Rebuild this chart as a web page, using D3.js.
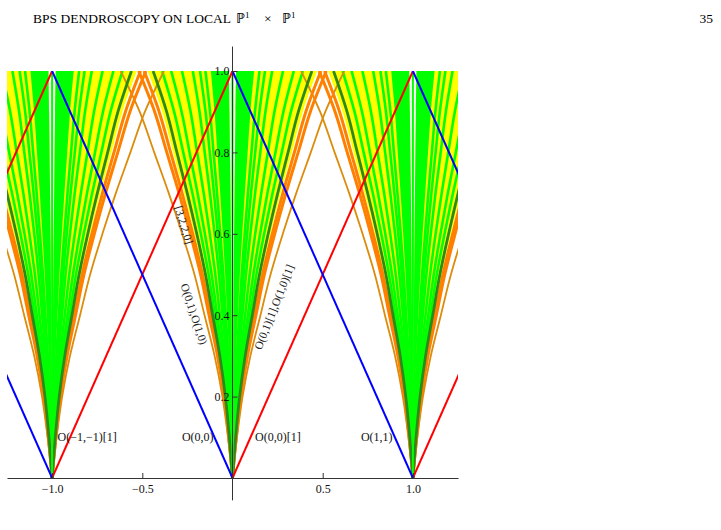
<!DOCTYPE html>
<html>
<head>
<meta charset="utf-8">
<script src="https://cdn.jsdelivr.net/npm/d3@7"></script>
<style>
  body { margin: 0; background: #fff; }
  text { font-family: "Liberation Serif", "Times New Roman", serif; }
</style>
</head>
<body>
<div id="chart"></div>
<script>
const width = 721;
const height = 530;

// origins of the wall fans on the horizontal axis
const fanOrigins = [-1, 0, 1];
// common shape of a wall: relative half-width read at each height
const yLevels     = [0, 0.1, 0.2, 0.3, 0.4, 0.5, 0.6, 0.7, 0.8, 0.9, 1.0];
const wallProfile = [0, 0.04, 0.09, 0.16, 0.25, 0.34, 0.45, 0.57, 0.70, 0.83, 1.0];
// half-width of each wall at the top (y = 1)
const greenBand = [0.02, 0.12];
const yellowBand = [0.02, 0.47];
const greenWalls = [0.15, 0.18, 0.22, 0.28, 0.34, 0.39];
const darkGreenWalls = [0.44];
const orangeWalls = [0.49, 0.52];
const thinOrangeWalls = [0.62];
// straight rays
const redStarts = [-2, -1, 0, 1];
const blueStarts = [-1, 0, 1, 2];
// ticks
const xMajorTicks = [-1, -0.5, 0.5, 1];
const yMajorTicks = [0.2, 0.4, 0.6, 0.8, 1.0];
// annotations
const pointLabels = [
  {text: "O(−1,−1)[1]", x: -0.97, y: 0.09, anchor: "start"},
  {text: "O(0,0)",      x: -0.105, y: 0.09, anchor: "end"},
  {text: "O(0,0)[1]",   x: 0.125, y: 0.09, anchor: "start"},
  {text: "O(1,1)",      x: 0.712, y: 0.09, anchor: "start"}
];
const wallLabels = [
  {text: "[3,2,2,0]",            x: -0.269, y: 0.622, angle: 73},
  {text: "O(0,1),O(1,0)",        x: -0.213, y: 0.403, angle: 72},
  {text: "O(0,1)[1],O(1,0)[1]",  x: 0.230,  y: 0.420, angle: -68.5}
];

const colors = {
  yellow: "#ffff00", green: "#00ff00", darkGreen: "#2b8a1c",
  orange: "#ff8000", thinOrange: "#dc8c0a", red: "#ff0000", blue: "#0000ff",
  axis: "#333"
};

const x = d3.scaleLinear().domain([-1.25, 1.25]).range([7, 458]);
const y = d3.scaleLinear().domain([0, 1]).range([478, 71]);

const svg = d3.select('#chart')
  .append('svg')
  .attr('width', width)
  .attr('height', height)
  .style('background', 'white');

// running head
const head = svg.append('text')
  .attr('x', 33).attr('y', 23)
  .style('font-size', '13.5px');
head.append('tspan').text('BPS DENDROSCOPY ON LOCAL');
head.append('tspan').attr('x', 236).style('font-size', '14px').text('ℙ');
head.append('tspan').attr('dy', -5.5).style('font-size', '9px').text('1');
head.append('tspan').attr('x', 264).attr('dy', 5.5).text('×');
head.append('tspan').attr('x', 282).style('font-size', '14px').text('ℙ');
head.append('tspan').attr('dy', -5.5).style('font-size', '9px').text('1');
svg.append('text')
  .attr('x', 713).attr('y', 23)
  .attr('text-anchor', 'end')
  .style('font-size', '13.5px')
  .text('35');

svg.append('clipPath').attr('id', 'plotclip')
  .append('rect')
  .attr('x', x(-1.25)).attr('y', y(1))
  .attr('width', x(1.25) - x(-1.25))
  .attr('height', y(0) - y(1));

const plot = svg.append('g').attr('clip-path', 'url(#plotclip)');

const profile = yLevels.map((v, i) => ({y: v, s: wallProfile[i]}));

function wallPath(n, side, c) {
  return d3.line()
    .curve(d3.curveCatmullRom)
    .x(d => x(n + side * c * d.s))
    .y(d => y(d.y))(profile);
}

function bandPath(n, side, band) {
  return d3.area()
    .curve(d3.curveCatmullRom)
    .y(d => y(d.y))
    .x0(d => x(n + side * band[0] * d.s))
    .x1(d => x(n + side * band[1] * d.s))(profile);
}

const sides = [-1, 1];

// filled regions
fanOrigins.forEach(n => sides.forEach(side => {
  plot.append('path').attr('d', bandPath(n, side, yellowBand)).attr('fill', colors.yellow);
}));
fanOrigins.forEach(n => sides.forEach(side => {
  plot.append('path').attr('d', bandPath(n, side, greenBand)).attr('fill', colors.green);
}));

// walls
function drawWalls(list, color, w) {
  fanOrigins.forEach(n => sides.forEach(side => {
    list.forEach(c => {
      plot.append('path')
        .attr('d', wallPath(n, side, c))
        .attr('fill', 'none')
        .attr('stroke', color)
        .attr('stroke-width', w);
    });
  }));
}
drawWalls(greenWalls, colors.green, 2.6);
drawWalls(thinOrangeWalls, colors.thinOrange, 1.8);
drawWalls(orangeWalls, colors.orange, 3);
drawWalls(darkGreenWalls, colors.darkGreen, 2.8);

fanOrigins.forEach(n => {
  plot.append('line')
    .attr('x1', x(n)).attr('x2', x(n))
    .attr('y1', y(0)).attr('y2', y(1))
    .attr('stroke', colors.green)
    .attr('stroke-width', 2);
});

// rays
redStarts.forEach(n => {
  plot.append('line')
    .attr('x1', x(n)).attr('y1', y(0))
    .attr('x2', x(n + 1)).attr('y2', y(1))
    .attr('stroke', colors.red).attr('stroke-width', 2);
});
blueStarts.forEach(n => {
  plot.append('line')
    .attr('x1', x(n)).attr('y1', y(0))
    .attr('x2', x(n - 1)).attr('y2', y(1))
    .attr('stroke', colors.blue).attr('stroke-width', 2);
});

// axes
const xAxisG = svg.append('g').attr('transform', `translate(0,${y(0)})`);
xAxisG.call(d3.axisBottom(x)
  .tickValues(d3.range(-12, 13).map(k => k / 10))
  .tickSizeInner(-2.5).tickSizeOuter(0).tickFormat(''));
xAxisG.call(d3.axisBottom(x)
  .tickValues(xMajorTicks)
  .tickSizeInner(-5).tickSizeOuter(0).tickPadding(6)
  .tickFormat(d3.format('.1f')));
xAxisG.selectAll('path,line').attr('stroke', colors.axis);
xAxisG.selectAll('text').style('font-size', '12px').style('font-family', '"Liberation Serif", serif').attr('fill', '#111');

const yAxisG = svg.append('g').attr('transform', `translate(${x(0)},0)`);
yAxisG.append('line')
  .attr('y1', y(-0.055)).attr('y2', y(1.06))
  .attr('stroke', colors.axis);
yAxisG.call(d3.axisLeft(y)
  .tickValues(d3.range(-1, 22).map(k => k / 20))
  .tickSizeInner(-2.5).tickSizeOuter(0).tickFormat(''));
yAxisG.call(d3.axisLeft(y)
  .tickValues(yMajorTicks)
  .tickSizeInner(-5).tickSizeOuter(0).tickPadding(3)
  .tickFormat(d3.format('.1f')));
yAxisG.selectAll('path.domain').remove();
yAxisG.selectAll('line').attr('stroke', colors.axis);
yAxisG.selectAll('text').style('font-size', '12px').style('font-family', '"Liberation Serif", serif').attr('fill', '#111');

// labels
pointLabels.forEach(d => {
  svg.append('text')
    .attr('x', x(d.x)).attr('y', y(d.y))
    .attr('text-anchor', d.anchor)
    .style('font-size', '12px')
    .attr('fill', '#111')
    .text(d.text);
});
wallLabels.forEach(d => {
  svg.append('text')
    .attr('transform', `translate(${x(d.x)},${y(d.y)}) rotate(${d.angle})`)
    .attr('text-anchor', 'middle')
    .attr('dominant-baseline', 'central')
    .style('font-size', '11.5px')
    .attr('fill', '#222')
    .text(d.text);
});
</script>
</body>
</html>
